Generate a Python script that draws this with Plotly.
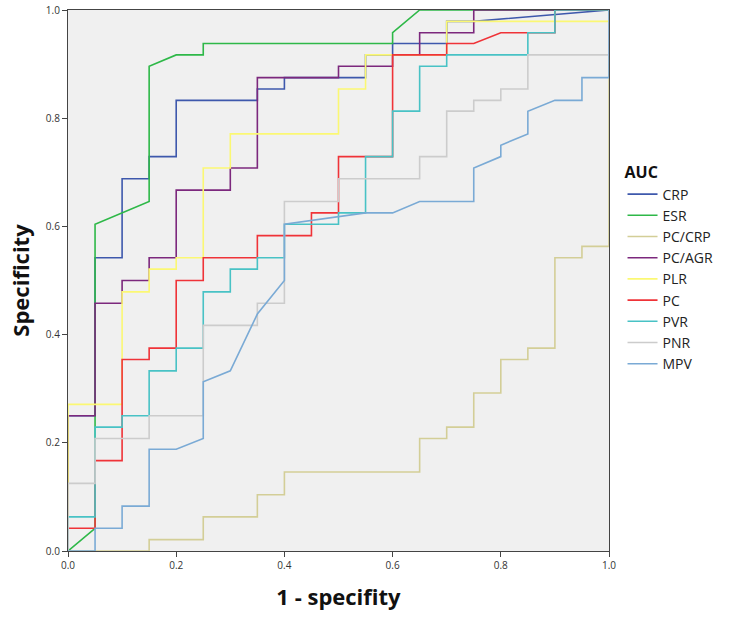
import plotly.graph_objects as go

series_names = ["CRP", "ESR", "PC/CRP", "PC/AGR", "PLR", "PC", "PVR", "PNR", "MPV"]

crp_x = [0, 0, 0.05, 0.05, 0.1, 0.1, 0.15, 0.15, 0.2, 0.2, 0.35, 0.35, 0.4, 0.4, 0.55, 0.55, 0.6, 0.6, 0.7, 0.7, 0.75, 1]
crp_y = [0, 0.25, 0.25, 0.542, 0.542, 0.688, 0.688, 0.729, 0.729, 0.833, 0.833, 0.854, 0.854, 0.875, 0.875, 0.917, 0.917, 0.938, 0.938, 0.979, 0.979, 1]

esr_x = [0, 0.05, 0.05, 0.15, 0.15, 0.2, 0.25, 0.25, 0.6, 0.6, 0.65, 1]
esr_y = [0, 0.042, 0.604, 0.646, 0.896, 0.917, 0.917, 0.938, 0.938, 0.958, 1, 1]

pccrp_x = [0, 0.15, 0.15, 0.25, 0.25, 0.35, 0.35, 0.4, 0.4, 0.65, 0.65, 0.7, 0.7, 0.75, 0.75, 0.8, 0.8, 0.85, 0.85, 0.9, 0.9, 0.95, 0.95, 1, 1]
pccrp_y = [0, 0, 0.021, 0.021, 0.063, 0.063, 0.104, 0.104, 0.146, 0.146, 0.208, 0.208, 0.229, 0.229, 0.292, 0.292, 0.354, 0.354, 0.375, 0.375, 0.542, 0.542, 0.563, 0.563, 1]

pcagr_x = [0, 0, 0.05, 0.05, 0.1, 0.1, 0.15, 0.15, 0.2, 0.2, 0.3, 0.3, 0.35, 0.35, 0.5, 0.5, 0.6, 0.6, 0.65, 0.65, 0.75, 0.75, 1]
pcagr_y = [0, 0.25, 0.25, 0.458, 0.458, 0.5, 0.5, 0.542, 0.542, 0.667, 0.667, 0.708, 0.708, 0.875, 0.875, 0.896, 0.896, 0.917, 0.917, 0.958, 0.958, 1, 1]

plr_x = [0, 0, 0.1, 0.1, 0.15, 0.15, 0.2, 0.2, 0.25, 0.25, 0.3, 0.3, 0.5, 0.5, 0.55, 0.55, 0.7, 0.7, 1, 1]
plr_y = [0, 0.271, 0.271, 0.479, 0.479, 0.521, 0.521, 0.542, 0.542, 0.708, 0.708, 0.771, 0.771, 0.854, 0.854, 0.917, 0.917, 0.979, 0.979, 1]

pc_x = [0, 0, 0.05, 0.05, 0.1, 0.1, 0.15, 0.15, 0.2, 0.2, 0.25, 0.25, 0.35, 0.35, 0.45, 0.45, 0.5, 0.5, 0.6, 0.6, 0.7, 0.7, 0.75, 0.8, 0.9, 0.9, 1]
pc_y = [0, 0.042, 0.042, 0.167, 0.167, 0.354, 0.354, 0.375, 0.375, 0.5, 0.5, 0.542, 0.542, 0.583, 0.583, 0.625, 0.625, 0.729, 0.729, 0.917, 0.917, 0.938, 0.938, 0.958, 0.958, 1, 1]

pvr_x = [0, 0, 0.05, 0.05, 0.1, 0.1, 0.15, 0.15, 0.2, 0.2, 0.25, 0.25, 0.3, 0.3, 0.35, 0.35, 0.4, 0.4, 0.5, 0.5, 0.55, 0.55, 0.6, 0.6, 0.65, 0.65, 0.7, 0.7, 0.85, 0.85, 0.9, 0.9, 1]
pvr_y = [0, 0.063, 0.063, 0.229, 0.229, 0.25, 0.25, 0.333, 0.333, 0.375, 0.375, 0.479, 0.479, 0.521, 0.521, 0.542, 0.542, 0.604, 0.604, 0.625, 0.625, 0.729, 0.729, 0.813, 0.813, 0.896, 0.896, 0.917, 0.917, 0.958, 0.958, 1, 1]

pnr_x = [0, 0, 0.05, 0.05, 0.15, 0.15, 0.25, 0.25, 0.35, 0.35, 0.4, 0.4, 0.5, 0.5, 0.65, 0.65, 0.7, 0.7, 0.75, 0.75, 0.8, 0.8, 0.85, 0.85, 1, 1]
pnr_y = [0, 0.125, 0.125, 0.208, 0.208, 0.25, 0.25, 0.417, 0.417, 0.458, 0.458, 0.646, 0.646, 0.688, 0.688, 0.729, 0.729, 0.813, 0.813, 0.833, 0.833, 0.854, 0.854, 0.917, 0.917, 1]

mpv_x = [0, 0.05, 0.05, 0.1, 0.1, 0.15, 0.15, 0.2, 0.25, 0.25, 0.3, 0.35, 0.4, 0.4, 0.55, 0.6, 0.65, 0.75, 0.75, 0.8, 0.8, 0.85, 0.85, 0.9, 0.95, 0.95, 1, 1]
mpv_y = [0, 0, 0.042, 0.042, 0.083, 0.083, 0.188, 0.188, 0.208, 0.313, 0.333, 0.438, 0.5, 0.604, 0.625, 0.625, 0.646, 0.646, 0.708, 0.729, 0.75, 0.771, 0.813, 0.833, 0.833, 0.875, 0.875, 1]

tick_vals = [0, 0.2, 0.4, 0.6, 0.8, 1.0]
tick_text = ["0.0", "0.2", "0.4", "0.6", "0.8", "1.0"]

colors = ["#3E58AC", "#2EB848", "#D3CE97", "#7C287D", "#FBF873", "#EF3338", "#48C2C5", "#CCCCCC", "#7AAAD5"]

xs = [crp_x, esr_x, pccrp_x, pcagr_x, plr_x, pc_x, pvr_x, pnr_x, mpv_x]
ys = [crp_y, esr_y, pccrp_y, pcagr_y, plr_y, pc_y, pvr_y, pnr_y, mpv_y]

fig = go.Figure()
for name, x, y, c in zip(series_names, xs, ys, colors):
    fig.add_trace(go.Scatter(x=x, y=y, mode="lines", name=name,
                             line=dict(color=c, width=1.6)))

font_family = "Open Sans, Noto Sans, sans-serif"
axis_common = dict(
    range=[0, 1], tickvals=tick_vals, ticktext=tick_text, automargin=False,
    showgrid=False, zeroline=False, showline=True, linecolor="#444444",
    linewidth=1.2, mirror=True, ticks="outside", ticklen=5, tickcolor="#444444",
    tickfont=dict(size=10, color="#333333", family=font_family),
)
fig.update_xaxes(**axis_common,
                 title=dict(text="<b>1 - specifity</b>", font=dict(size=22, color="#111111", family=font_family), standoff=18))
fig.update_yaxes(**axis_common,
                 title=dict(text="<b>Specificity</b>", font=dict(size=22, color="#111111", family=font_family), standoff=10))

fig.update_layout(
    width=744, height=617,
    margin=dict(l=68, r=135, t=10, b=66),
    paper_bgcolor="white", plot_bgcolor="#F0F0F0",
    font=dict(family=font_family),
    showlegend=True,
    legend=dict(
        title=dict(text="<b>AUC</b>", font=dict(size=16, color="#111111", family=font_family)),
        font=dict(size=14, color="#222222", family=font_family),
        x=1.025, xanchor="left", y=0.727, yanchor="top",
        bgcolor="rgba(0,0,0,0)", tracegroupgap=0, itemwidth=30,
    ),
)

fig.write_html("out.html", config={"displayModeBar": False},
               post_script="document.body.style.margin='0';")
